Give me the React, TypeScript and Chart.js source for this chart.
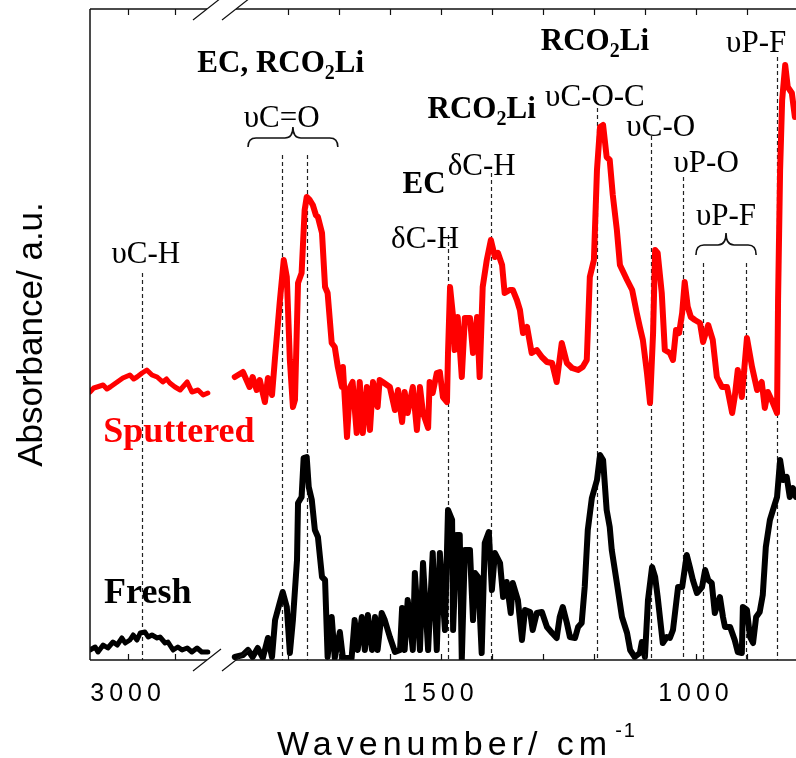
import React, { useEffect, useRef } from 'react';
import { Chart, registerables } from 'chart.js';

Chart.register(...registerables);

// ---------------- data (wavenumber / cm-1, absorbance a.u.) ----------------
const freshLeftWn = [3081, 3070, 3064, 3053, 3043, 3032, 3023, 3013, 3006, 2996, 2989, 2981, 2974, 2964, 2957, 2949, 2938, 2932, 2921, 2915, 2904, 2894, 2885, 2874, 2864, 2853, 2843, 2830];
const freshLeftAbs = [0.010, 0.013, 0.008, 0.015, 0.012, 0.018, 0.015, 0.022, 0.017, 0.020, 0.025, 0.020, 0.027, 0.028, 0.023, 0.025, 0.022, 0.023, 0.017, 0.018, 0.010, 0.013, 0.010, 0.012, 0.008, 0.012, 0.008, 0.008];

const freshRightWn = [1904, 1888, 1878, 1869, 1859, 1849, 1839, 1831, 1825, 1816, 1810, 1802, 1796, 1790, 1782, 1780, 1773, 1769, 1763, 1759, 1753, 1747, 1741, 1733, 1727, 1722, 1714, 1708, 1698, 1692, 1684, 1675, 1669, 1663, 1655, 1649, 1643, 1635, 1629, 1624, 1616, 1610, 1600, 1590, 1580, 1576, 1571, 1565, 1555, 1551, 1541, 1535, 1525, 1516, 1508, 1502, 1492, 1486, 1478, 1476, 1469, 1463, 1459, 1453, 1443, 1437, 1433, 1427, 1420, 1414, 1406, 1400, 1394, 1384, 1378, 1371, 1363, 1359, 1349, 1341, 1335, 1325, 1320, 1312, 1302, 1292, 1282, 1273, 1267, 1261, 1253, 1247, 1237, 1231, 1224, 1218, 1212, 1204, 1194, 1188, 1182, 1175, 1169, 1165, 1155, 1145, 1135, 1129, 1120, 1110, 1106, 1100, 1094, 1086, 1080, 1075, 1065, 1057, 1051, 1045, 1035, 1027, 1018, 1012, 1006, 998, 988, 982, 976, 969, 963, 953, 947, 943, 933, 924, 918, 910, 908, 900, 894, 888, 882, 875, 869, 863, 855, 849, 841, 835, 829, 822, 816, 810, 804];
const freshRightAbs = [0.003, 0.005, 0.010, 0.003, 0.012, 0.002, 0.022, 0.003, 0.040, 0.057, 0.068, 0.053, 0.007, 0.040, 0.100, 0.157, 0.163, 0.202, 0.203, 0.173, 0.160, 0.130, 0.123, 0.083, 0.080, 0.003, 0.043, 0.002, 0.028, 0.002, 0.002, 0.002, 0.040, 0.010, 0.043, 0.010, 0.045, 0.010, 0.043, 0.010, 0.047, 0.040, 0.023, 0.008, 0.010, 0.052, 0.010, 0.060, 0.010, 0.087, 0.010, 0.097, 0.010, 0.107, 0.010, 0.107, 0.030, 0.150, 0.140, 0.030, 0.125, 0.125, 0.000, 0.110, 0.110, 0.040, 0.087, 0.083, 0.007, 0.117, 0.128, 0.070, 0.107, 0.097, 0.063, 0.078, 0.047, 0.077, 0.060, 0.020, 0.050, 0.048, 0.030, 0.047, 0.048, 0.033, 0.027, 0.022, 0.043, 0.053, 0.037, 0.023, 0.022, 0.033, 0.037, 0.073, 0.130, 0.162, 0.180, 0.205, 0.200, 0.150, 0.133, 0.110, 0.077, 0.043, 0.027, 0.010, 0.003, 0.007, 0.018, 0.003, 0.060, 0.093, 0.083, 0.063, 0.017, 0.023, 0.022, 0.030, 0.073, 0.073, 0.105, 0.093, 0.080, 0.067, 0.073, 0.090, 0.080, 0.077, 0.047, 0.063, 0.043, 0.033, 0.033, 0.020, 0.008, 0.007, 0.053, 0.050, 0.023, 0.017, 0.043, 0.048, 0.065, 0.113, 0.140, 0.150, 0.163, 0.200, 0.180, 0.183, 0.163, 0.172, 0.163];

const sputLeftWn = [3081, 3073, 3066, 3053, 3045, 3038, 3023, 3011, 2996, 2988, 2981, 2970, 2960, 2949, 2938, 2926, 2918, 2911, 2900, 2889, 2874, 2864, 2851, 2840, 2830];
const sputLeftAbs = [0.268, 0.272, 0.273, 0.275, 0.271, 0.273, 0.278, 0.282, 0.285, 0.281, 0.283, 0.287, 0.290, 0.285, 0.283, 0.278, 0.281, 0.277, 0.273, 0.270, 0.278, 0.268, 0.270, 0.265, 0.267];

const sputRightWn = [1904, 1888, 1875, 1869, 1861, 1855, 1845, 1839, 1831, 1825, 1816, 1808, 1802, 1796, 1790, 1786, 1780, 1773, 1767, 1763, 1757, 1751, 1745, 1741, 1733, 1727, 1722, 1714, 1708, 1702, 1694, 1692, 1684, 1678, 1673, 1665, 1659, 1653, 1645, 1639, 1633, 1624, 1620, 1614, 1600, 1590, 1584, 1576, 1571, 1565, 1555, 1547, 1541, 1535, 1525, 1522, 1516, 1508, 1502, 1496, 1488, 1486, 1482, 1476, 1473, 1467, 1459, 1453, 1443, 1437, 1429, 1424, 1418, 1410, 1402, 1394, 1388, 1380, 1375, 1365, 1359, 1351, 1345, 1339, 1331, 1322, 1312, 1302, 1292, 1282, 1273, 1263, 1253, 1243, 1231, 1222, 1214, 1208, 1200, 1194, 1188, 1182, 1175, 1169, 1163, 1155, 1149, 1135, 1125, 1116, 1110, 1104, 1096, 1090, 1084, 1080, 1075, 1067, 1061, 1051, 1045, 1039, 1033, 1027, 1022, 1016, 1010, 1002, 992, 986, 976, 967, 959, 949, 939, 929, 924, 918, 910, 900, 890, 880, 871, 865, 859, 849, 841, 839, 835, 831, 825, 820, 816, 812, 806, 804];
const sputRightAbs = [0.283, 0.288, 0.273, 0.283, 0.270, 0.280, 0.258, 0.282, 0.265, 0.303, 0.357, 0.400, 0.383, 0.300, 0.253, 0.260, 0.377, 0.387, 0.450, 0.463, 0.460, 0.455, 0.445, 0.443, 0.427, 0.373, 0.367, 0.317, 0.313, 0.293, 0.273, 0.293, 0.223, 0.273, 0.278, 0.227, 0.278, 0.227, 0.273, 0.230, 0.278, 0.253, 0.280, 0.278, 0.273, 0.250, 0.270, 0.238, 0.268, 0.247, 0.273, 0.230, 0.273, 0.247, 0.232, 0.278, 0.267, 0.287, 0.288, 0.263, 0.258, 0.307, 0.373, 0.343, 0.310, 0.343, 0.283, 0.342, 0.342, 0.307, 0.343, 0.283, 0.373, 0.400, 0.420, 0.403, 0.407, 0.395, 0.367, 0.370, 0.370, 0.360, 0.350, 0.327, 0.333, 0.307, 0.310, 0.303, 0.298, 0.297, 0.278, 0.317, 0.297, 0.292, 0.290, 0.293, 0.300, 0.383, 0.400, 0.490, 0.533, 0.535, 0.503, 0.500, 0.465, 0.430, 0.395, 0.380, 0.370, 0.347, 0.333, 0.320, 0.287, 0.257, 0.327, 0.410, 0.407, 0.367, 0.310, 0.307, 0.300, 0.330, 0.327, 0.347, 0.378, 0.353, 0.343, 0.340, 0.337, 0.318, 0.335, 0.320, 0.283, 0.273, 0.273, 0.247, 0.263, 0.290, 0.263, 0.322, 0.293, 0.270, 0.278, 0.252, 0.268, 0.257, 0.247, 0.360, 0.490, 0.560, 0.595, 0.573, 0.570, 0.567, 0.543, 0.550];

// axis ticks
const leftTickWn = [3000, 2900];
const rightTickWn = [1800, 1700, 1600, 1500, 1400, 1300, 1200, 1100, 1000, 900];
const leftTickLabels = [3000];
const rightTickLabels = [1500, 1000];

// peak assignment lines: axis, wavenumber, top level (a.u.)
const peakLines = [
  { axis: 'xL', wn: 2970, top: 0.387 },
  { axis: 'xR', wn: 1812, top: 0.505 },
  { axis: 'xR', wn: 1763, top: 0.505 },
  { axis: 'xR', wn: 1486, top: 0.425 },
  { axis: 'xR', wn: 1402, top: 0.487 },
  { axis: 'xR', wn: 1194, top: 0.552 },
  { axis: 'xR', wn: 1088, top: 0.524 },
  { axis: 'xR', wn: 1025, top: 0.483 },
  { axis: 'xR', wn: 986, top: 0.397 },
  { axis: 'xR', wn: 902, top: 0.397 },
  { axis: 'xR', wn: 841, top: 0.603 },
];

// annotation texts ("_x" = subscript x)
const peakLabels = [
  { text: 'EC, RCO_2Li', axis: 'xR', wn: 1814, at: 0.588, bold: true },
  { text: 'υC=O', axis: 'xR', wn: 1812, at: 0.533, bold: false },
  { text: 'υC-H', axis: 'xL', wn: 2962, at: 0.397, bold: false },
  { text: 'δC-H', axis: 'xR', wn: 1531, at: 0.412, bold: false },
  { text: 'EC', axis: 'xR', wn: 1533, at: 0.467, bold: true },
  { text: 'δC-H', axis: 'xR', wn: 1420, at: 0.485, bold: false },
  { text: 'RCO_2Li', axis: 'xR', wn: 1420, at: 0.542, bold: true },
  { text: 'υC-O-C', axis: 'xR', wn: 1198, at: 0.554, bold: false },
  { text: 'RCO_2Li', axis: 'xR', wn: 1198, at: 0.610, bold: true },
  { text: 'υC-O', axis: 'xR', wn: 1069, at: 0.524, bold: false },
  { text: 'υP-O', axis: 'xR', wn: 980, at: 0.488, bold: false },
  { text: 'υP-F', axis: 'xR', wn: 882, at: 0.608, bold: false },
  { text: 'υP-F', axis: 'xR', wn: 941, at: 0.435, bold: false },
];

const seriesLabels = [
  { text: 'Sputtered', axis: 'xL', wn: 3053, at: 0.218, color: '#ff0000' },
  { text: 'Fresh', axis: 'xL', wn: 3051, at: 0.057, color: '#000000' },
];

const braces = [
  { axis: 'xR', from: 1878, to: 1702, end: 0.513, tip: 0.533 },
  { axis: 'xR', from: 1000, to: 882, end: 0.405, tip: 0.427 },
];

const yTitle = 'Absorbance/ a.u.';
const xTitle = 'Wavenumber/ cm';
const xTitleSup = '-1';

// ---------------- styling ----------------
const SERIF = '"Liberation Serif", "Times New Roman", serif';
const SANS = '"Liberation Sans", Arial, sans-serif';

function toPoints(wn: number[], ab: number[]) {
  return wn.map((w, i) => ({ x: w, y: ab[i] }));
}

function parseRich(text: string) {
  const segs: { t: string; sub: boolean }[] = [];
  let buf = '';
  for (let i = 0; i < text.length; i++) {
    if (text[i] === '_' && i + 1 < text.length) {
      if (buf) segs.push({ t: buf, sub: false });
      buf = '';
      segs.push({ t: text[i + 1], sub: true });
      i++;
    } else buf += text[i];
  }
  if (buf) segs.push({ t: buf, sub: false });
  return segs;
}

function drawRich(ctx: any, text: string, x: number, baseline: number, size: number, bold: boolean, color: string, align: string) {
  const segs = parseRich(text);
  const subSize = Math.round(size * 0.65);
  const font = (s: number) => `${bold ? 'bold ' : ''}${s}px ${SERIF}`;
  const widths = segs.map((s) => {
    ctx.font = font(s.sub ? subSize : size);
    return ctx.measureText(s.t).width;
  });
  const total = widths.reduce((a, b) => a + b, 0);
  let cx = align === 'center' ? x - total / 2 : x;
  ctx.fillStyle = color;
  ctx.textAlign = 'left';
  ctx.textBaseline = 'alphabetic';
  segs.forEach((s, i) => {
    ctx.font = font(s.sub ? subSize : size);
    ctx.fillText(s.t, cx, baseline + (s.sub ? size * 0.22 : 0));
    cx += widths[i];
  });
}

const decorPlugin = {
  id: 'decor',
  beforeDraw(chart: any) {
    chart.ctx.letterSpacing = '5px';
  },
  beforeDatasetsDraw(chart: any) {
    const ctx = chart.ctx;
    ctx.letterSpacing = '0px';
    const y = chart.scales.y;
    ctx.save();
    ctx.setLineDash([4, 3]);
    ctx.lineWidth = 1.2;
    ctx.strokeStyle = '#222';
    peakLines.forEach((l) => {
      const px = Math.round(chart.scales[l.axis].getPixelForValue(l.wn)) + 0.5;
      ctx.beginPath();
      ctx.moveTo(px, y.getPixelForValue(l.top));
      ctx.lineTo(px, y.bottom);
      ctx.stroke();
    });
    ctx.restore();
  },
  afterDatasetsDraw(chart: any) {
    const ctx = chart.ctx;
    const y = chart.scales.y;
    const xL = chart.scales.xL;
    const xR = chart.scales.xR;
    const left = xL.left;
    const right = xR.right;
    const top = y.top;
    const bottom = y.bottom;
    const brk = xL.right;
    const s1 = brk - 14;
    const s2 = brk + 15;
    ctx.save();
    ctx.letterSpacing = '0px';
    ctx.strokeStyle = '#111';
    ctx.lineWidth = 1.5;
    ctx.setLineDash([]);
    // frame
    ctx.beginPath();
    ctx.moveTo(left, top);
    ctx.lineTo(left, bottom);
    ctx.moveTo(left, top);
    ctx.lineTo(s1, top);
    ctx.moveTo(s2, top);
    ctx.lineTo(right, top);
    ctx.moveTo(left, bottom);
    ctx.lineTo(s1, bottom);
    ctx.moveTo(s2, bottom);
    ctx.lineTo(right, bottom);
    ctx.stroke();
    // inward ticks
    ctx.lineWidth = 1.2;
    ctx.beginPath();
    const tick = (sc: any, v: number) => {
      const px = Math.round(sc.getPixelForValue(v)) + 0.5;
      ctx.moveTo(px, top);
      ctx.lineTo(px, top + 6);
      ctx.moveTo(px, bottom);
      ctx.lineTo(px, bottom - 6);
    };
    leftTickWn.forEach((v) => tick(xL, v));
    rightTickWn.forEach((v) => tick(xR, v));
    ctx.stroke();
    // break marks
    ctx.beginPath();
    [top, bottom].forEach((yy) => {
      [s1, s2].forEach((sx) => {
        ctx.moveTo(sx - 14, yy + 11);
        ctx.lineTo(sx + 14, yy - 11);
      });
    });
    ctx.stroke();
    // braces
    ctx.lineWidth = 1.6;
    braces.forEach((b) => {
      const sc = chart.scales[b.axis];
      const x1 = sc.getPixelForValue(b.from);
      const x2 = sc.getPixelForValue(b.to);
      const xm = (x1 + x2) / 2;
      const ye = y.getPixelForValue(b.end);
      const yt = y.getPixelForValue(b.tip);
      const yb = (ye + yt) / 2 + 1;
      const r = 8;
      ctx.beginPath();
      ctx.moveTo(x1, ye);
      ctx.quadraticCurveTo(x1, yb, x1 + r, yb);
      ctx.lineTo(xm - r, yb);
      ctx.quadraticCurveTo(xm, yb, xm, yt);
      ctx.quadraticCurveTo(xm, yb, xm + r, yb);
      ctx.lineTo(x2 - r, yb);
      ctx.quadraticCurveTo(x2, yb, x2, ye);
      ctx.stroke();
    });
    // labels
    peakLabels.forEach((l) => {
      const px = chart.scales[l.axis].getPixelForValue(l.wn);
      drawRich(ctx, l.text, px, y.getPixelForValue(l.at), 31, l.bold, '#000', 'center');
    });
    seriesLabels.forEach((l) => {
      const px = chart.scales[l.axis].getPixelForValue(l.wn);
      drawRich(ctx, l.text, px, y.getPixelForValue(l.at), 36, true, l.color, 'left');
    });
    ctx.restore();
  },
  afterDraw(chart: any) {
    const ctx = chart.ctx;
    const y = chart.scales.y;
    const xL = chart.scales.xL;
    const xR = chart.scales.xR;
    ctx.save();
    ctx.fillStyle = '#000';
    ctx.textBaseline = 'alphabetic';
    ctx.textAlign = 'left';
    // x title
    ctx.letterSpacing = '5px';
    ctx.font = `34px ${SANS}`;
    const wMain = ctx.measureText(xTitle).width;
    ctx.font = `20px ${SANS}`;
    ctx.letterSpacing = '2px';
    const wSup = ctx.measureText(xTitleSup).width;
    const cx = (xL.left + xR.right) / 2 + 12;
    const start = cx - (wMain + wSup + 3) / 2;
    ctx.letterSpacing = '5px';
    ctx.font = `34px ${SANS}`;
    ctx.fillText(xTitle, start, 755);
    ctx.letterSpacing = '2px';
    ctx.font = `20px ${SANS}`;
    ctx.fillText(xTitleSup, start + wMain + 3, 737);
    // y title
    ctx.letterSpacing = '0px';
    ctx.font = `35px ${SANS}`;
    ctx.translate(42, (y.top + y.bottom) / 2);
    ctx.rotate(-Math.PI / 2);
    ctx.textAlign = 'center';
    ctx.fillText(yTitle, 0, 0);
    ctx.restore();
    ctx.letterSpacing = '0px';
  },
};

export default function App() {
  const ref = useRef<HTMLCanvasElement>(null);
  useEffect(() => {
    Chart.defaults.font.family = SANS;
    const tickFont = { family: SANS, size: 25 };
    const chart = new Chart(ref.current as HTMLCanvasElement, {
      type: 'line',
      data: {
        datasets: [
          { label: 'Fresh', xAxisID: 'xL', yAxisID: 'y', data: toPoints(freshLeftWn, freshLeftAbs), borderColor: '#000', borderWidth: 5 },
          { label: 'Fresh', xAxisID: 'xR', yAxisID: 'y', data: toPoints(freshRightWn, freshRightAbs), borderColor: '#000', borderWidth: 6 },
          { label: 'Sputtered', xAxisID: 'xL', yAxisID: 'y', data: toPoints(sputLeftWn, sputLeftAbs), borderColor: '#ff0000', borderWidth: 5 },
          { label: 'Sputtered', xAxisID: 'xR', yAxisID: 'y', data: toPoints(sputRightWn, sputRightAbs), borderColor: '#ff0000', borderWidth: 6 },
        ] as any,
      },
      options: {
        responsive: false,
        maintainAspectRatio: false,
        animation: false,
        devicePixelRatio: 1,
        events: [],
        layout: { padding: { left: 90, top: 9, right: 6, bottom: 30 } },
        elements: {
          point: { radius: 0 },
          line: { tension: 0, borderJoinStyle: 'round', borderCapStyle: 'round', fill: false },
        },
        plugins: { legend: { display: false }, tooltip: { enabled: false }, title: { display: false } },
        scales: {
          xL: {
            type: 'linear',
            position: 'bottom',
            stack: 'wn',
            stackWeight: 131,
            reverse: true,
            min: 2802,
            max: 3081,
            grid: { display: false, drawTicks: false },
            border: { display: false },
            afterBuildTicks: (s: any) => { s.ticks = leftTickLabels.map((v) => ({ value: v })); },
            ticks: { padding: 19, maxRotation: 0, autoSkip: false, color: '#000', font: tickFont, callback: (v: any) => String(v) },
          },
          xR: {
            type: 'linear',
            position: 'bottom',
            stack: 'wn',
            stackWeight: 579,
            reverse: true,
            min: 796,
            max: 1931,
            grid: { display: false, drawTicks: false },
            border: { display: false },
            afterBuildTicks: (s: any) => { s.ticks = rightTickLabels.map((v) => ({ value: v })); },
            ticks: { padding: 19, maxRotation: 0, autoSkip: false, color: '#000', font: tickFont, callback: (v: any) => String(v) },
          },
          y: { display: false, min: 0, max: 0.651 },
        } as any,
      },
      plugins: [decorPlugin as any],
    });
    return () => chart.destroy();
  }, []);
  return (
    <div style={{ position: 'fixed', left: 0, top: 0, width: 796, height: 758, overflow: 'hidden', background: '#fff' }}>
      <canvas ref={ref} width={806} height={758} style={{ display: 'block', width: 806, height: 758 }} />
    </div>
  );
}
